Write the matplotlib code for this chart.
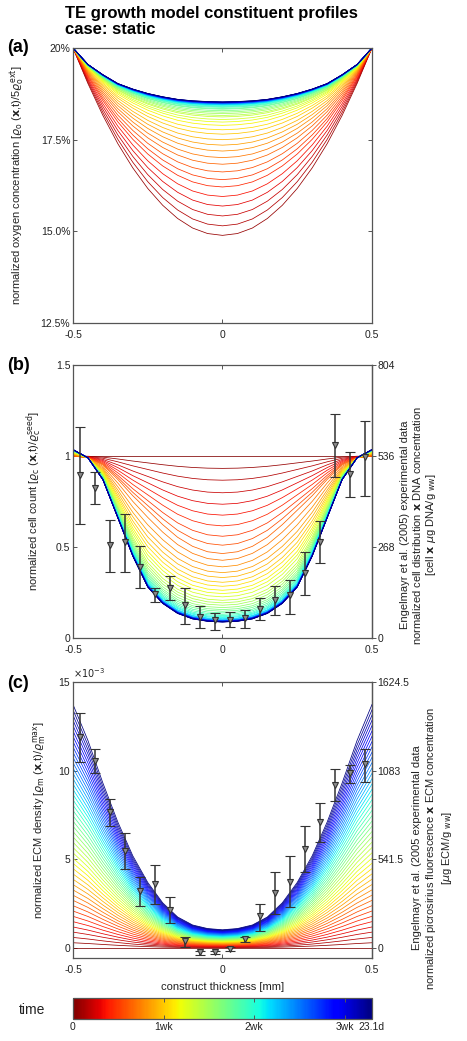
import numpy as np
import matplotlib
matplotlib.use('Agg')
import matplotlib.pyplot as plt
from matplotlib.colors import Normalize
from matplotlib.cm import ScalarMappable

plt.rcParams['font.family'] = ['Liberation Sans', 'DejaVu Sans']
plt.rcParams['axes.edgecolor'] = '#555555'
plt.rcParams['xtick.color'] = '#555555'
plt.rcParams['ytick.color'] = '#555555'
plt.rcParams['xtick.labelcolor'] = '#222222'
plt.rcParams['ytick.labelcolor'] = '#222222'

# half-thickness positions the profiles were read at (mm), mirrored later
x_half = [0.0, 0.05, 0.10, 0.15, 0.20, 0.25, 0.30, 0.35, 0.40, 0.45, 0.50]

# (a) oxygen, % of 5x external
oxy_initial = 20.0
oxy_first = [14.89, 14.94, 15.09, 15.35, 15.71, 16.17, 16.73, 17.39, 18.16, 19.03, 20.0]
oxy_final = [18.53, 18.54, 18.56, 18.60, 18.67, 18.76, 18.88, 19.03, 19.27, 19.55, 20.0]
oxy_centre = [14.89, 15.15, 15.42, 15.69, 15.95, 16.21, 16.41, 16.62, 16.83, 17.01,
              17.19, 17.35, 17.50, 17.65, 17.77, 17.89, 17.98, 18.05, 18.12, 18.16,
              18.21, 18.25, 18.29, 18.33, 18.35, 18.38, 18.40, 18.42, 18.44, 18.45,
              18.46, 18.47, 18.48, 18.485, 18.49, 18.495, 18.50, 18.505, 18.51, 18.512,
              18.515, 18.518, 18.521, 18.524, 18.527, 18.53]

# (b) cell count
cell_initial = 1.0
cell_mid = [0.46, 0.47, 0.50, 0.55, 0.62, 0.70, 0.78, 0.87, 0.95, 0.99, 1.0]
cell_final = [0.088, 0.092, 0.105, 0.135, 0.19, 0.28, 0.45, 0.66, 0.87, 0.99, 1.035]
cell_centre = [0.932, 0.867, 0.798, 0.735, 0.675, 0.616, 0.559, 0.510, 0.464, 0.427,
               0.391, 0.359, 0.332, 0.306, 0.284, 0.262, 0.244, 0.226, 0.207, 0.193,
               0.180, 0.167, 0.156, 0.147, 0.138, 0.130, 0.123, 0.117, 0.112, 0.106,
               0.103, 0.099, 0.097, 0.096, 0.095, 0.094, 0.093, 0.092, 0.092, 0.091,
               0.090, 0.090, 0.089, 0.089, 0.088, 0.088]

# (c) ECM density, x 1e-3
ecm_initial = 0.0
ecm_final = [1.03, 1.10, 1.30, 1.75, 2.55, 3.70, 5.20, 7.10, 9.30, 11.70, 13.73]
ecm_edge = [0.30, 0.60, 0.90, 1.19, 1.49, 1.79, 2.09, 2.39, 2.69, 2.98,
            3.28, 3.58, 3.88, 4.18, 4.48, 4.78, 5.07, 5.37, 5.67, 5.97,
            6.27, 6.57, 6.87, 7.16, 7.46, 7.76, 8.06, 8.36, 8.66, 8.95,
            9.25, 9.55, 9.85, 10.15, 10.45, 10.75, 11.04, 11.34, 11.64, 11.94,
            12.24, 12.54, 12.84, 13.13, 13.43, 13.73]

# Engelmayr et al. (2005) data
exp_x = [-0.475, -0.425, -0.375, -0.325, -0.275, -0.225, -0.175, -0.125, -0.075, -0.025,
         0.025, 0.075, 0.125, 0.175, 0.225, 0.275, 0.325, 0.375, 0.425, 0.475]
cell_y = [0.895, 0.822, 0.510, 0.528, 0.391, 0.244, 0.277, 0.180, 0.116, 0.097,
          0.101, 0.110, 0.161, 0.211, 0.235, 0.358, 0.528, 1.060, 0.900, 0.992]
cell_hi = [1.161, 0.913, 0.651, 0.679, 0.506, 0.277, 0.341, 0.275, 0.174, 0.139,
           0.143, 0.156, 0.222, 0.286, 0.321, 0.470, 0.644, 1.229, 1.020, 1.192]
cell_lo = [0.624, 0.735, 0.363, 0.363, 0.275, 0.198, 0.211, 0.075, 0.055, 0.042,
           0.061, 0.057, 0.101, 0.125, 0.130, 0.235, 0.413, 0.882, 0.772, 0.781]
ecm_y = [11.91, 10.54, 7.69, 5.50, 3.23, 3.62, 2.16, 0.38, -0.24, -0.24,
         -0.06, 0.51, 1.78, 3.10, 3.75, 5.59, 7.13, 9.19, 9.85, 10.36]
ecm_hi = [13.26, 11.20, 8.41, 6.49, 4.00, 4.69, 2.87, 0.60, -0.15, -0.15,
          0.04, 0.62, 2.51, 4.28, 5.20, 6.89, 8.16, 10.08, 10.32, 11.22]
ecm_lo = [10.47, 9.85, 6.90, 4.45, 2.35, 2.48, 1.41, 0.04, -0.38, -0.36,
          -0.19, 0.32, 0.98, 1.91, 2.31, 4.28, 6.00, 8.29, 9.29, 9.34]

time_ticks = [0, 7, 14, 21, 23.1]
time_labels = ['0', '1wk', '2wk', '3wk', '23.1d']
cell_right = ['0', '268', '536', '804']
ecm_right = ['0', '541.5', '1083', '1624.5']


def mirror(v):
    v = np.asarray(v, float)
    return np.concatenate([v[:0:-1], v])


xs = np.concatenate([-np.asarray(x_half)[:0:-1], x_half])
cmap = plt.cm.jet_r
n = len(oxy_centre)

# build curve families
oxy_curves = [np.full(xs.size, oxy_initial)]
A, B = mirror(oxy_first), mirror(oxy_final)
for c in oxy_centre:
    w = (c - A[10]) / (B[10] - A[10])
    oxy_curves.append(A + w * (B - A))

cell_curves = [np.full(xs.size, cell_initial)]
M, B = mirror(cell_mid), mirror(cell_final)
for c in cell_centre:
    if c >= M[10]:
        w = (cell_initial - c) / (cell_initial - M[10])
        cell_curves.append(cell_initial + w * (M - cell_initial))
    else:
        w = (M[10] - c) / (M[10] - B[10])
        cell_curves.append(M + w * (B - M))

ecm_curves = [np.full(xs.size, ecm_initial)]
B = mirror(ecm_final)
for e in ecm_edge:
    ecm_curves.append(B * e / ecm_final[-1])

fig = plt.figure(figsize=(4.67, 10.41), dpi=100)
W, H = 467.0, 1041.0


def box(l, t, r, b):
    return [l / W, 1 - b / H, (r - l) / W, (b - t) / H]


ax_a = fig.add_axes(box(73, 48, 372, 323))
ax_b = fig.add_axes(box(73, 365, 372, 638))
ax_c = fig.add_axes(box(73, 682, 372, 958))
cax = fig.add_axes(box(73, 998, 372, 1019))

for ax, curves in [(ax_a, oxy_curves), (ax_b, cell_curves), (ax_c, ecm_curves)]:
    for i, y in enumerate(curves):
        ax.plot(xs, y, color=cmap(i / n), lw=0.55, clip_on=(i != 0))
    ax.set_xlim(-0.5, 0.5)
    ax.set_xticks([-0.5, 0, 0.5])
    ax.set_xticklabels(['-0.5', '0', '0.5'])
    ax.tick_params(direction='in', length=3, width=0.7, top=True, right=True,
                   labelsize=7.5, pad=2)
    ax.tick_params(axis='x', pad=5)
    for s in ax.spines.values():
        s.set_linewidth(0.9)

ax_a.set_ylim(12.5, 20)
ax_a.set_yticks([12.5, 15, 17.5, 20])
ax_a.set_yticklabels(['12.5%', '15.0%', '17.5%', '20%'])

ax_b.set_ylim(0, 1.5)
ax_b.set_yticks([0, 0.5, 1, 1.5])
ax_b.set_yticklabels(['0', '0.5', '1', '1.5'])

ax_c.set_ylim(-0.56, 15)
ax_c.set_yticks([0, 5, 10, 15])
ax_c.set_yticklabels(['0', '5', '10', '15'])
ax_c.text(0.0, 1.008, r'$\times10^{-3}$', transform=ax_c.transAxes, fontsize=7,
          ha='left', va='bottom', color='#222222')

ebkw = dict(fmt='v', ms=5, mfc='#8c8c8c', mec='#333333', mew=0.8, ecolor='#333333',
            elinewidth=1.1, capsize=3.5, capthick=1, zorder=5)
cy = np.array(cell_y)
ax_b.errorbar(exp_x, cy, yerr=[cy - np.array(cell_lo), np.array(cell_hi) - cy], **ebkw)
ey = np.array(ecm_y)
ax_c.errorbar(exp_x, ey, yerr=[ey - np.array(ecm_lo), np.array(ecm_hi) - ey], clip_on=False, **ebkw)

# right-hand axes with the experimental units
for ax, scale, labels in [(ax_b, 536.0, cell_right), (ax_c, 108.3, ecm_right)]:
    ax.tick_params(right=False)
    sec = ax.secondary_yaxis('right', functions=(lambda v, s=scale: v * s,
                                                 lambda v, s=scale: v / s))
    sec.set_yticks([float(l) for l in labels])
    sec.set_yticklabels(labels)
    sec.tick_params(direction='out', length=3, width=0.7, labelsize=7.5, pad=1)
    sec.spines['right'].set_linewidth(0.9)

lab = dict(rotation=90, ha='center', va='center', fontsize=8, color='#222222')
fig.text(18 / W, 1 - 185 / H,
         r'normalized oxygen concentration [$\varrho_{\rm o}$ ($\mathbf{x}$,t)/5$\varrho_{\rm o}^{\rm ext}$]', **lab)
fig.text(34 / W, 1 - 501 / H,
         r'normalized cell count [$\varrho_{\rm c}$ ($\mathbf{x}$,t)/$\varrho_{\rm c}^{\rm seed}$]', **lab)
fig.text(40 / W, 1 - 820 / H,
         r'normalized ECM density [$\varrho_{\rm m}$ ($\mathbf{x}$,t)/$\varrho_{\rm m}^{\rm max}$]', **lab)
fig.text(419 / W, 1 - 525 / H,
         'Engelmayr et al. (2005) experimental data\n'
         r'normalized cell distribution $\mathbf{x}$ DNA concentration' '\n'
         r'[cell $\mathbf{x}$ $\mu$g DNA/g $_{\rm ww}$]',
         multialignment='center', linespacing=1.15, **lab)
fig.text(433 / W, 1 - 848 / H,
         'Engelmayr et al. (2005 experimental data\n'
         r'normalized picrosirius fluorescence $\mathbf{x}$ ECM concentration' '\n'
         r'[$\mu$g ECM/g $_{\rm ww}$]',
         multialignment='center', linespacing=1.15, **lab)

ax_c.set_xlabel('construct thickness [mm]', fontsize=8, color='#222222', labelpad=5)

fig.text(65 / W, 1 - 6 / H, 'TE growth model constituent profiles\ncase: static',
         fontsize=12, fontweight='bold', ha='left', va='top', linespacing=1.05)
for t, yc in [('(a)', 47), ('(b)', 366), ('(c)', 683)]:
    fig.text(7 / W, 1 - yc / H, t, fontsize=13, fontweight='bold', ha='left', va='center')

sm = ScalarMappable(norm=Normalize(0, 23.1), cmap=cmap)
cb = fig.colorbar(sm, cax=cax, orientation='horizontal')
cb.set_ticks(time_ticks)
cb.set_ticklabels(time_labels)
cb.ax.tick_params(direction='in', length=3, width=0.7, top=True, bottom=True,
                  labelsize=7.5, pad=2, colors='#555555', labelcolor='#222222')
cb.outline.set_linewidth(0.9)
fig.text(32 / W, 1 - 1010 / H, 'time', fontsize=10, ha='center', va='center', color='#222222')

fig.savefig('out.png', dpi=100)
